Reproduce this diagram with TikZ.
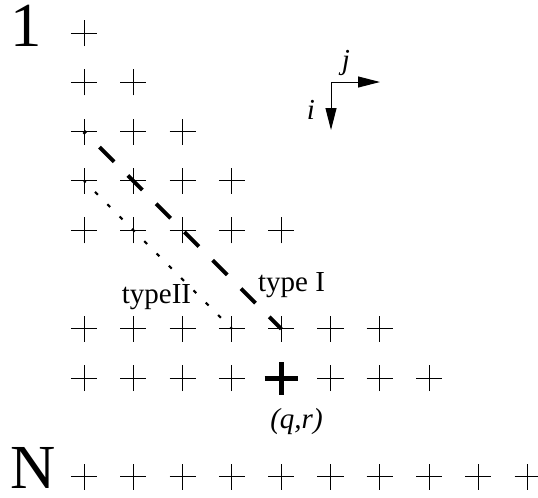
\documentclass[tikz,border=0pt]{standalone}
\usepackage{fontspec}
\setmainfont{Liberation Serif}
\usepackage{tikz}
\usetikzlibrary{shapes.misc,arrows.meta}

\begin{document}
\begin{tikzpicture}[x=0.75pt, y=-0.75pt,
    plusmark/.style={draw, cross out, rotate=45, minimum size=13.1pt, inner sep=0pt, line width=0.75pt},
    boldplus/.style={draw, cross out, rotate=45, minimum size=13.8pt, inner sep=0pt, line width=3.75pt},
    lbl/.style={inner sep=0pt, anchor=base, font=\fontsize{21.75pt}{24pt}\selectfont},
    biglbl/.style={inner sep=0pt, anchor=base, font=\fontsize{47pt}{50pt}\selectfont},
    axis/.style={line width=0.75pt, -{Triangle[length=16.5pt, width=8.25pt]}}]
    \useasboundingbox (0,0) rectangle (538,497);

    % lower triangle rows
    \foreach \r in {0,...,4}
        \foreach \c in {0,...,\r}
            \node[plusmark] (p-\r-\c) at ({84+49.3*\c},{33+49.3*\r}) {};
    \foreach \c in {0,...,6}
        \node[plusmark] (p-6-\c) at ({84+49.3*\c},{33+49.3*6}) {};
    \foreach \c in {0,1,2,3,5,6,7}
        \node[plusmark] (p-7-\c) at ({84+49.3*\c},{33+49.3*7}) {};
    \foreach \c in {0,...,9}
        \node[plusmark] (p-9-\c) at ({84+49.3*\c},{33+49.3*9}) {};

    % the element (q,r)
    \node[boldplus] (p-7-4) at ({84+49.3*4},{33+49.3*7}) {};
    \node[lbl] (qr) at (296.5,428) {\textit{(q,r)}};

    % row labels
    \node[biglbl] (one) at (26,46) {1};
    \node[biglbl] (enn) at (33,488) {N};

    % directions
    \coordinate (corner) at (331,82);
    \coordinate (jend) at (380,82);
    \coordinate (iend) at (331,130);
    \draw[axis] (corner) -- (jend);
    \draw[axis] (corner) -- (iend);
    \node[lbl] (jlab) at (346,69) {\textit{j}};
    \node[lbl] (ilab) at (311,119) {\textit{i}};

    % diagonals
    \draw[line width=3pt, dash pattern=on 15.4pt off 14.6pt, dash phase=13.5pt] (p-2-0.center) -- (p-6-4.center);
    \draw[line width=1.5pt, dash pattern=on 3pt off 10.05pt, dash phase=1.35pt] (p-3-0.center) -- (p-6-3.center);
    \node[lbl] (typeone) at (291.5,291) {type I};
    \node[lbl] (typetwo) at (156.5,303.5) {typeII};
\end{tikzpicture}
\end{document}
